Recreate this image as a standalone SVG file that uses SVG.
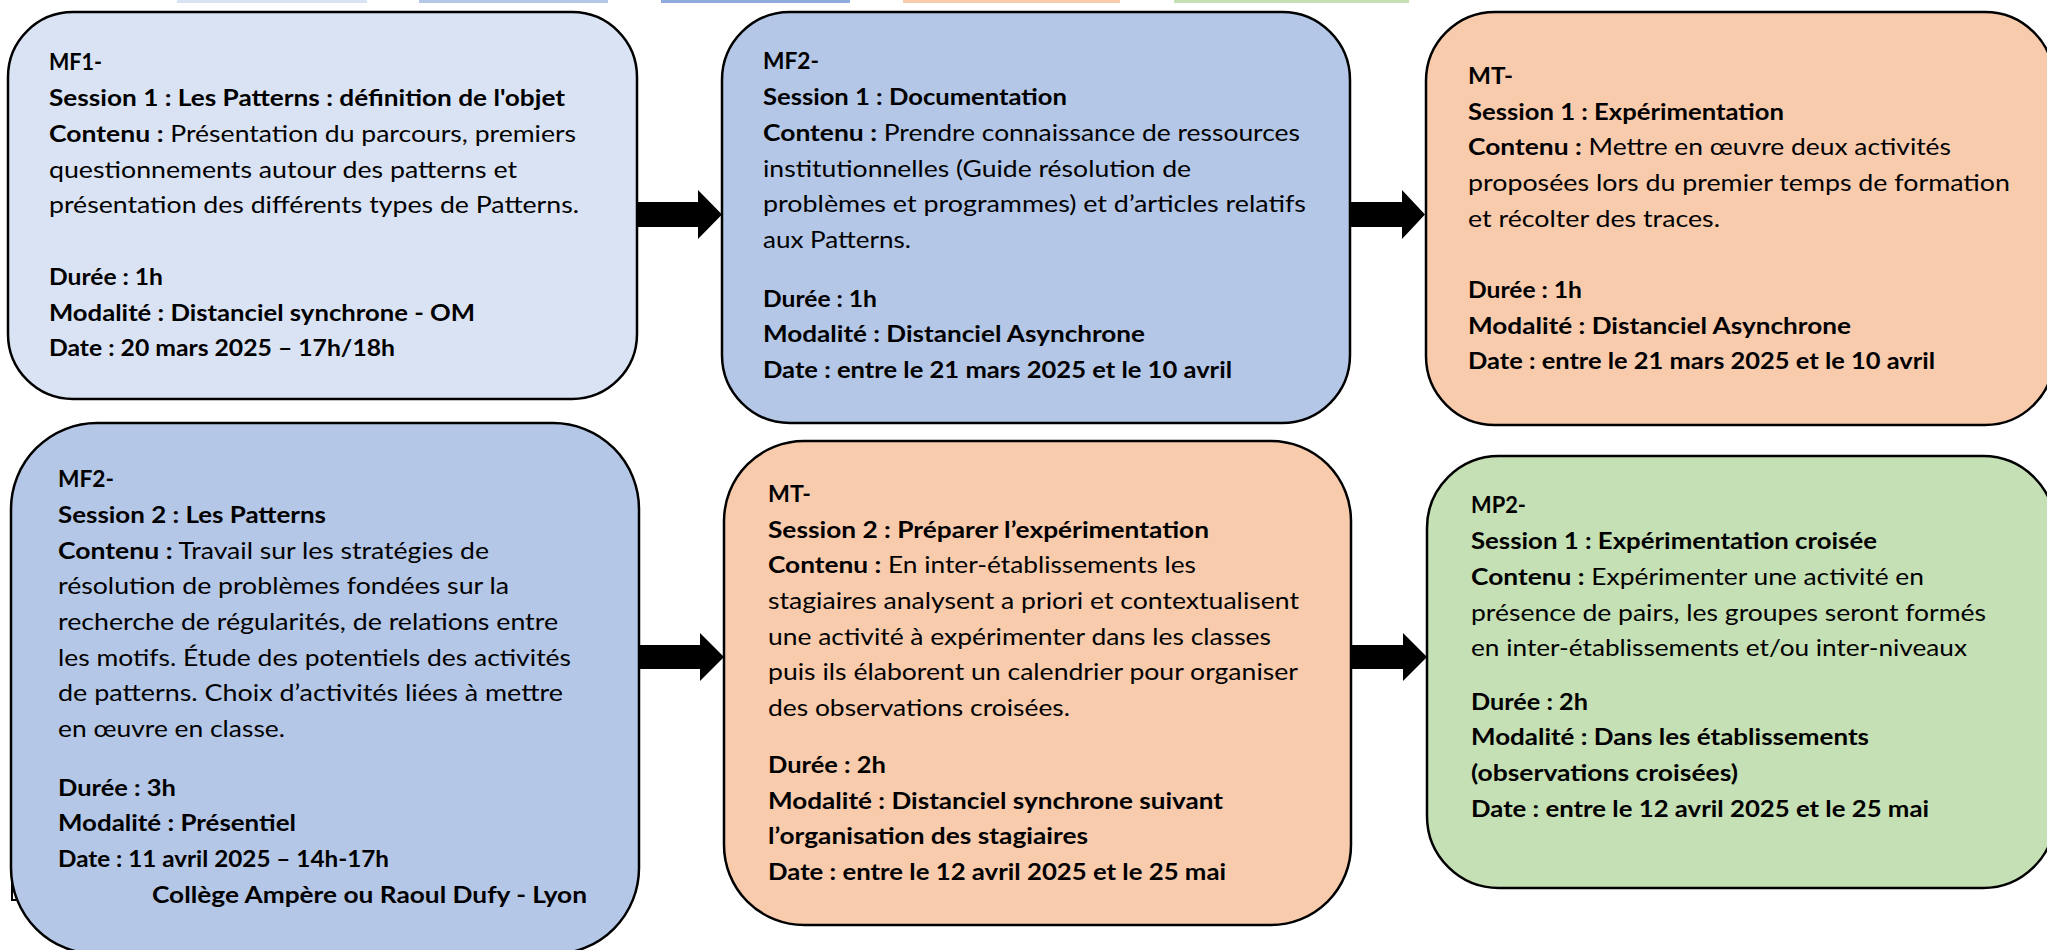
<svg xmlns="http://www.w3.org/2000/svg" width="2047" height="950" viewBox="0 0 2047 950">
<style>
.box{stroke:#000;stroke-width:2.5}
.mf1{fill:#dae3f3}.mf2{fill:#b4c7e7}.mf3{fill:#8faadc}.mt{fill:#f8cbad}.mp2{fill:#c5e0b4}
text{font-family:Lato,"Open Sans","Liberation Sans",sans-serif;font-size:23px;fill:#000}
.b{font-weight:700}
.arrow{fill:#000}
</style>
<g id="legend-bars">
<rect class="mf1" x="177" y="0" width="190" height="3"/>
<rect class="mf2" x="419" y="0" width="189" height="3"/>
<rect class="mf3" x="661" y="0" width="189" height="3"/>
<rect class="mt" x="903" y="0" width="217" height="3"/>
<rect class="mp2" x="1174" y="0" width="235" height="3"/>
</g>
<g id="connectors">
<polygon class="arrow" points="637,202 698,202 698,190 722,214.5 698,239 698,227 637,227"/>
<polygon class="arrow" points="1349,202 1402,202 1402,190 1425,214.5 1402,239 1402,227 1349,227"/>
<polygon class="arrow" points="639,645 700,645 700,633 724,657 700,681 700,669 639,669"/>
<polygon class="arrow" points="1350,645 1403,645 1403,633 1427,657 1403,681 1403,669 1350,669"/>
</g>
<g id="mf1-s1">
<rect class="box mf1" x="8" y="12" width="629" height="387" rx="65" ry="65"/>
<text x="49" y="70" class="b" textLength="53" lengthAdjust="spacingAndGlyphs">MF1-</text>
<text x="49" y="106" class="b" textLength="516" lengthAdjust="spacingAndGlyphs">Session 1 : Les Patterns : définition de l'objet</text>
<text x="49" y="142" textLength="527" lengthAdjust="spacingAndGlyphs"><tspan class="b">Contenu :</tspan> Présentation du parcours, premiers</text>
<text x="49" y="178" textLength="468" lengthAdjust="spacingAndGlyphs">questionnements autour des patterns et</text>
<text x="49" y="213" textLength="530" lengthAdjust="spacingAndGlyphs">présentation des différents types de Patterns.</text>
<text x="49" y="285" class="b" textLength="114" lengthAdjust="spacingAndGlyphs">Durée : 1h</text>
<text x="49" y="321" class="b" textLength="426" lengthAdjust="spacingAndGlyphs">Modalité : Distanciel synchrone - OM</text>
<text x="49" y="356" class="b" textLength="346" lengthAdjust="spacingAndGlyphs">Date : 20 mars 2025 – 17h/18h</text>
</g>
<g id="mf2-s1">
<rect class="box mf2" x="722" y="12" width="628" height="411" rx="68" ry="68"/>
<text x="763" y="69" class="b" textLength="56" lengthAdjust="spacingAndGlyphs">MF2-</text>
<text x="763" y="105" class="b" textLength="304" lengthAdjust="spacingAndGlyphs">Session 1 : Documentation</text>
<text x="763" y="141" textLength="537" lengthAdjust="spacingAndGlyphs"><tspan class="b">Contenu :</tspan> Prendre connaissance de ressources</text>
<text x="763" y="177" textLength="428" lengthAdjust="spacingAndGlyphs">institutionnelles (Guide résolution de</text>
<text x="763" y="212" textLength="543" lengthAdjust="spacingAndGlyphs">problèmes et programmes) et d’articles relatifs</text>
<text x="763" y="248" textLength="148" lengthAdjust="spacingAndGlyphs">aux Patterns.</text>
<text x="763" y="307" class="b" textLength="114" lengthAdjust="spacingAndGlyphs">Durée : 1h</text>
<text x="763" y="342" class="b" textLength="382" lengthAdjust="spacingAndGlyphs">Modalité : Distanciel Asynchrone</text>
<text x="763" y="378" class="b" textLength="469" lengthAdjust="spacingAndGlyphs">Date : entre le 21 mars 2025 et le 10 avril</text>
</g>
<g id="mt-s1">
<rect class="box mt" x="1426" y="12" width="628" height="413" rx="69" ry="69"/>
<text x="1468" y="84" class="b" textLength="45" lengthAdjust="spacingAndGlyphs">MT-</text>
<text x="1468" y="120" class="b" textLength="316" lengthAdjust="spacingAndGlyphs">Session 1 : Expérimentation</text>
<text x="1468" y="155" textLength="483" lengthAdjust="spacingAndGlyphs"><tspan class="b">Contenu :</tspan> Mettre en œuvre deux activités</text>
<text x="1468" y="191" textLength="542" lengthAdjust="spacingAndGlyphs">proposées lors du premier temps de formation</text>
<text x="1468" y="227" textLength="252" lengthAdjust="spacingAndGlyphs">et récolter des traces.</text>
<text x="1468" y="298" class="b" textLength="114" lengthAdjust="spacingAndGlyphs">Durée : 1h</text>
<text x="1468" y="334" class="b" textLength="383" lengthAdjust="spacingAndGlyphs">Modalité : Distanciel Asynchrone</text>
<text x="1468" y="369" class="b" textLength="467" lengthAdjust="spacingAndGlyphs">Date : entre le 21 mars 2025 et le 10 avril</text>
</g>
<g id="mf2-s2">
<path d="M12 872 V900 H16" fill="none" stroke="#000" stroke-width="2"/>
<rect class="box mf2" x="11" y="423" width="628" height="531" rx="86" ry="86"/>
<text x="58" y="487" class="b" textLength="56" lengthAdjust="spacingAndGlyphs">MF2-</text>
<text x="58" y="523" class="b" textLength="268" lengthAdjust="spacingAndGlyphs">Session 2 : Les Patterns</text>
<text x="58" y="559" textLength="431" lengthAdjust="spacingAndGlyphs"><tspan class="b">Contenu :</tspan> Travail sur les stratégies de</text>
<text x="58" y="594" textLength="451" lengthAdjust="spacingAndGlyphs">résolution de problèmes fondées sur la</text>
<text x="58" y="630" textLength="500" lengthAdjust="spacingAndGlyphs">recherche de régularités, de relations entre</text>
<text x="58" y="666" textLength="513" lengthAdjust="spacingAndGlyphs">les motifs. Étude des potentiels des activités</text>
<text x="58" y="701" textLength="505" lengthAdjust="spacingAndGlyphs">de patterns. Choix d’activités liées à mettre</text>
<text x="58" y="737" textLength="227" lengthAdjust="spacingAndGlyphs">en œuvre en classe.</text>
<text x="58" y="796" class="b" textLength="118" lengthAdjust="spacingAndGlyphs">Durée : 3h</text>
<text x="58" y="831" class="b" textLength="238" lengthAdjust="spacingAndGlyphs">Modalité : Présentiel</text>
<text x="58" y="867" class="b" textLength="331" lengthAdjust="spacingAndGlyphs">Date : 11 avril 2025 – 14h-17h</text>
<text x="152" y="903" class="b" textLength="435" lengthAdjust="spacingAndGlyphs">Collège Ampère ou Raoul Dufy - Lyon</text>
</g>
<g id="mt-s2">
<rect class="box mt" x="724" y="441" width="627" height="484" rx="80" ry="80"/>
<text x="768" y="502" class="b" textLength="43" lengthAdjust="spacingAndGlyphs">MT-</text>
<text x="768" y="538" class="b" textLength="441" lengthAdjust="spacingAndGlyphs">Session 2 : Préparer l’expérimentation</text>
<text x="768" y="573" textLength="428" lengthAdjust="spacingAndGlyphs"><tspan class="b">Contenu :</tspan> En inter-établissements les</text>
<text x="768" y="609" textLength="531" lengthAdjust="spacingAndGlyphs">stagiaires analysent a priori et contextualisent</text>
<text x="768" y="645" textLength="503" lengthAdjust="spacingAndGlyphs">une activité à expérimenter dans les classes</text>
<text x="768" y="680" textLength="530" lengthAdjust="spacingAndGlyphs">puis ils élaborent un calendrier pour organiser</text>
<text x="768" y="716" textLength="302" lengthAdjust="spacingAndGlyphs">des observations croisées.</text>
<text x="768" y="773" class="b" textLength="118" lengthAdjust="spacingAndGlyphs">Durée : 2h</text>
<text x="768" y="809" class="b" textLength="455" lengthAdjust="spacingAndGlyphs">Modalité : Distanciel synchrone suivant</text>
<text x="768" y="844" class="b" textLength="320" lengthAdjust="spacingAndGlyphs">l’organisation des stagiaires</text>
<text x="768" y="880" class="b" textLength="458" lengthAdjust="spacingAndGlyphs">Date : entre le 12 avril 2025 et le 25 mai</text>
</g>
<g id="mp2-s1">
<rect class="box mp2" x="1427" y="456" width="628" height="432" rx="72" ry="72"/>
<text x="1471" y="513" class="b" textLength="55" lengthAdjust="spacingAndGlyphs">MP2-</text>
<text x="1471" y="549" class="b" textLength="406" lengthAdjust="spacingAndGlyphs">Session 1 : Expérimentation croisée</text>
<text x="1471" y="585" textLength="453" lengthAdjust="spacingAndGlyphs"><tspan class="b">Contenu :</tspan> Expérimenter une activité en</text>
<text x="1471" y="621" textLength="515" lengthAdjust="spacingAndGlyphs">présence de pairs, les groupes seront formés</text>
<text x="1471" y="656" textLength="496" lengthAdjust="spacingAndGlyphs">en inter-établissements et/ou inter-niveaux</text>
<text x="1471" y="710" class="b" textLength="117" lengthAdjust="spacingAndGlyphs">Durée : 2h</text>
<text x="1471" y="745" class="b" textLength="398" lengthAdjust="spacingAndGlyphs">Modalité : Dans les établissements</text>
<text x="1471" y="781" class="b" textLength="267" lengthAdjust="spacingAndGlyphs">(observations croisées)</text>
<text x="1471" y="817" class="b" textLength="458" lengthAdjust="spacingAndGlyphs">Date : entre le 12 avril 2025 et le 25 mai</text>
</g>
</svg>
